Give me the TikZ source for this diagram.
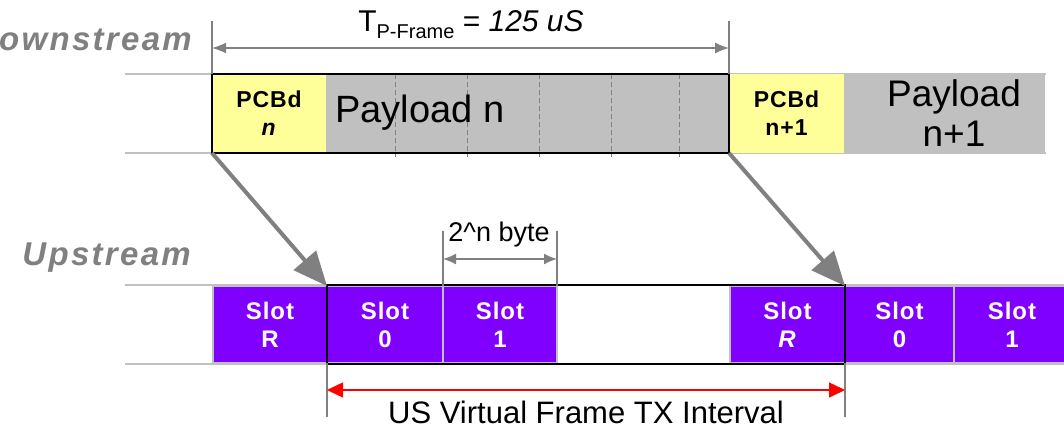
\documentclass[tikz,border=0pt]{standalone}
\usepackage{fontspec}
\setmainfont{Liberation Sans}
\newfontfamily\widefam[LetterSpace=7]{Liberation Sans}
\newfontfamily\semiwide[LetterSpace=4]{Liberation Sans}
\usetikzlibrary{arrows.meta}
\definecolor{pcb}{HTML}{FFFF99}
\definecolor{pay}{HTML}{C0C0C0}
\definecolor{slotc}{HTML}{8000FF}
\definecolor{darkg}{HTML}{808080}
\definecolor{guidec}{HTML}{C0C0C0}
\definecolor{redc}{HTML}{FF0000}
\newcommand\fsz[2]{\fontsize{#1}{#2}\selectfont}
\tikzset{
  guide/.style={draw=guidec, line width=1.5pt},
  cell/.style={inner sep=0pt, outer sep=0pt, minimum height=79pt, align=center},
  pcbcell/.style={cell, fill=pcb, font=\semiwide\fsz{23}{28}\bfseries},
  paycell/.style={cell, fill=pay},
  slotcell/.style={cell, fill=slotc, draw=guidec, line width=1.2pt, text=white, font=\semiwide\fsz{24}{28}\bfseries, minimum height=77pt},
  frame/.style={draw=black, line width=1.8pt},
  ext/.style={draw=darkg, line width=1.2pt},
  dimarrow/.style={draw=darkg, line width=1.5pt, {Latex[length=14pt,width=11pt]}-{Latex[length=14pt,width=11pt]}},
  smalldim/.style={draw=darkg, line width=1.5pt, {Latex[length=13pt,width=11pt]}-{Latex[length=13pt,width=11pt]}},
  reddim/.style={draw=redc, line width=1.5pt, {Triangle[length=16pt,width=15pt]}-{Triangle[length=16pt,width=15pt]}},
  bigarrow/.style={draw=darkg, line width=4pt, -{Triangle[length=34pt,width=29pt]}},
  dashsep/.style={draw=darkg, line width=1pt, dash pattern=on 5pt off 3pt},
  streamlabel/.style={text=darkg, font=\widefam\fsz{33}{36}\bfseries\itshape, inner sep=0pt}
}
\begin{document}
\begin{tikzpicture}[x=1pt,y=-1pt]
\useasboundingbox (0,0) rectangle (1064,428);
\clip (0,0) rectangle (1064,428);

% stream labels
\node[streamlabel, anchor=base east] (dsl) at (192,50) {Downstream};
\node[streamlabel, anchor=base east] (usl) at (191,265) {Upstream};

% downstream guide lines
\draw[guide] (125,74) -- (1046,74);
\draw[guide] (125,153) -- (1046,153);

% downstream cells
\node[pcbcell, minimum width=114pt] (pn) at (269,113.5) {PCBd\\\textit{n}};
\node[paycell, minimum width=403pt] (pl) at (527.5,113.5) {};
\node[pcbcell, minimum width=115pt] (pn1) at (786.5,113.5) {PCBd\\n+1};
\node[paycell, minimum width=201pt] (pl1) at (944.5,113.5) {};

\foreach \xx in {395,467,539,611,679}
  \draw[dashsep] (\xx,74) -- (\xx,157);

\node[inner sep=0pt, font=\fsz{38}{40}] (plt) at (420,113) {Payload n};
\node[inner sep=0pt, font=\fsz{37}{40}, align=center] (pl1t) at (954,113) {Payload\\n+1};

\draw[frame] (pn.north west) rectangle (pl.south east);

% period dimension
\coordinate (tl) at (212,21);
\coordinate (tr) at (729,21);
\coordinate (ta) at (212,48);
\coordinate (tb) at (729,48);
\draw[ext] (tl) -- (pn.north west);
\draw[ext] (tr) -- (pl.north east);
\draw[dimarrow] (ta) -- (tb);
\node[anchor=base, inner sep=0pt, font=\fsz{30}{32}] (tlab) at (471,32)
  {T\raisebox{-7pt}{\fsz{20}{22}P-Frame} = \textit{125 uS}};

% upstream guide lines
\draw[guide] (125,285) -- (1064,285);
\draw[guide] (125,364) -- (1064,364);

% upstream cells
\node[slotcell, minimum width=114pt] (sr) at (270,324.5) {Slot\\R};
\node[slotcell, minimum width=116pt] (s0) at (385,324.5) {Slot\\0};
\node[slotcell, minimum width=114pt] (s1) at (500,324.5) {Slot\\1};
\node[cell, minimum width=173pt] (gap) at (643.5,324.5) {};
\node[slotcell, minimum width=115pt] (sR) at (787.5,324.5) {Slot\\\textit{R}};
\node[slotcell, minimum width=109pt] (s0b) at (899.5,324.5) {Slot\\0};
\node[slotcell, minimum width=115pt] (s1b) at (1012,324.5) {Slot\\1};

\coordinate (ftl) at (327,285);
\coordinate (fbr) at (845,364);
\draw[frame] (ftl) rectangle (fbr);

% 2^n byte dimension
\coordinate (bl) at (443,231);
\coordinate (br) at (557,231);
\coordinate (ba) at (443,259);
\coordinate (bb) at (557,259);
\draw[ext] (bl) -- (s1.north west);
\draw[ext] (br) -- (s1.north east);
\draw[smalldim] (ba) -- (bb);
\node[anchor=base, inner sep=0pt, font=\fsz{27}{30}] (blab) at (499,241) {2\^{}n byte};

% US virtual frame interval
\coordinate (ul) at (327,417);
\coordinate (ur) at (845,417);
\coordinate (ua) at (327,390);
\coordinate (ub) at (845,390);
\draw[ext] (s0.south west) -- (ul);
\draw[ext] (sR.south east) -- (ur);
\draw[reddim] (ua) -- (ub);
\node[anchor=base, inner sep=0pt, font=\fsz{31}{34}] (ulab) at (586,423) {US Virtual Frame TX Interval};

% mapping arrows
\draw[bigarrow] (pn.south west) -- (s0.north west);
\draw[bigarrow] (pl.south east) -- (sR.north east);
\end{tikzpicture}
\end{document}
